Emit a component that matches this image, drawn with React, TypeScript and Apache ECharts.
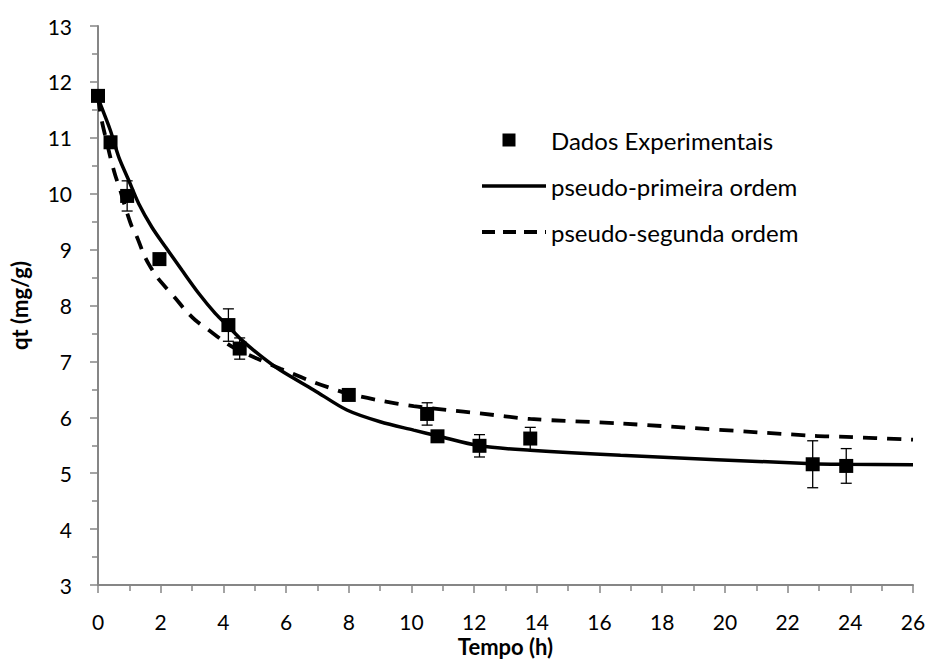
import React, { useEffect, useRef } from "react";
import * as echarts from "echarts";

const expTime = [0, 0.4, 0.93, 1.96, 4.16, 4.52, 8.0, 10.5, 10.83, 12.17, 13.79, 22.8, 23.87];
const expQt = [11.75, 10.92, 9.96, 8.83, 7.65, 7.23, 6.4, 6.06, 5.66, 5.49, 5.62, 5.16, 5.13];
const expErr = [0, 0, 0.27, 0, 0.29, 0.19, 0, 0.2, 0, 0.2, 0.2, 0.42, 0.31];

const pfoTime = [0, 0.07, 0.39, 0.66, 0.98, 1.3, 1.72, 2.15, 2.68, 3.21, 3.74, 4.17, 4.59, 5.23, 5.82, 6.88, 7.94, 9.0, 10.07, 10.81, 12.17, 13.79, 16.67, 22.8, 23.87, 26];
const pfoQt = [11.72, 11.61, 11.14, 10.66, 10.24, 9.82, 9.4, 9.05, 8.63, 8.22, 7.86, 7.62, 7.38, 7.08, 6.84, 6.49, 6.13, 5.92, 5.77, 5.67, 5.49, 5.41, 5.32, 5.17, 5.16, 5.15];

const psoTime = [0, 0.13, 0.29, 0.39, 0.55, 0.71, 0.87, 1.08, 1.24, 1.45, 1.61, 1.88, 2.15, 2.47, 2.78, 3.1, 3.53, 3.96, 4.38, 5.07, 5.82, 6.88, 7.94, 9.0, 10.07, 11.13, 12.19, 13.79, 16.65, 22.8, 23.87, 26];
const psoQt = [11.72, 11.28, 10.9, 10.66, 10.33, 10.06, 9.76, 9.41, 9.23, 8.93, 8.75, 8.51, 8.33, 8.13, 7.92, 7.74, 7.56, 7.38, 7.23, 7.05, 6.87, 6.63, 6.43, 6.3, 6.2, 6.13, 6.07, 5.97, 5.89, 5.67, 5.65, 5.6];

const seriesNames = ["Dados Experimentais", "pseudo-primeira ordem", "pseudo-segunda ordem"];
const xTitle = "Tempo (h)";
const yTitle = "qt (mg/g)";

const FONT = "Lato, 'Open Sans', sans-serif";
const AXIS_COLOR = "#868686";

export default function App() {
  const ref = useRef<HTMLDivElement>(null);
  useEffect(() => {
    if (!ref.current) return;
    const chart = echarts.init(ref.current, null, { renderer: "svg" });
    const errData = expTime
      .map((t, i) => [t, expQt[i], expErr[i]])
      .filter((d) => d[2] > 0);
    const hiddenSymbol = { opacity: 0, color: "rgba(0,0,0,0)", borderWidth: 0 };
    chart.setOption({
      animation: false,
      backgroundColor: "#fff",
      textStyle: { fontFamily: FONT },
      grid: { left: 98, right: 15, top: 26, bottom: 74, outerBoundsMode: "none", containLabel: false },
      legend: {
        orient: "vertical",
        left: 480,
        top: 127,
        padding: 0,
        itemWidth: 64,
        itemHeight: 13,
        itemGap: 20,
        textStyle: { fontFamily: FONT, fontSize: 24, color: "#000", lineHeight: 26 },
        data: [
          { name: seriesNames[0], icon: "path://M0,0L10,0L10,10L0,10ZM17.7,10L17.7,10" },
          { name: seriesNames[1], itemStyle: hiddenSymbol, lineStyle: { color: "#000", width: 3.5, type: "solid" } },
          { name: seriesNames[2], itemStyle: hiddenSymbol, lineStyle: { color: "#000", width: 4, type: [13, 8] } },
        ],
      },
      xAxis: {
        type: "value",
        min: 0,
        max: 26,
        interval: 2,
        name: xTitle,
        nameLocation: "middle",
        nameGap: 51,
        nameMoveOverlap: false,
        nameTextStyle: { fontFamily: FONT, fontSize: 22, fontWeight: "bold", color: "#000", lineHeight: 20 },
        axisLine: { show: true, lineStyle: { color: AXIS_COLOR, width: 2 } },
        axisTick: { show: true, length: 8, lineStyle: { color: AXIS_COLOR, width: 1.5 } },
        minorTick: { show: true, splitNumber: 2, length: 6, lineStyle: { color: AXIS_COLOR, width: 1.5 } },
        splitLine: { show: false },
        axisLabel: { fontFamily: FONT, fontSize: 21, color: "#000", margin: 26, lineHeight: 21 },
      },
      yAxis: {
        type: "value",
        min: 3,
        max: 13,
        interval: 1,
        name: yTitle,
        nameLocation: "middle",
        nameGap: 68,
        nameMoveOverlap: false,
        nameTextStyle: { fontFamily: FONT, fontSize: 22, fontWeight: "bold", color: "#000" },
        axisLine: { show: true, lineStyle: { color: AXIS_COLOR, width: 2 } },
        axisTick: { show: true, length: 8, lineStyle: { color: AXIS_COLOR, width: 1.5 } },
        minorTick: { show: true, splitNumber: 2, length: 6, lineStyle: { color: AXIS_COLOR, width: 1.5 } },
        splitLine: { show: false },
        axisLabel: { fontFamily: FONT, fontSize: 21, color: "#000", margin: 26 },
      },
      series: [
        {
          name: seriesNames[1],
          type: "line",
          data: pfoTime.map((t, i) => [t, pfoQt[i]]),
          smooth: 0.3,
          symbol: "none",
          lineStyle: { color: "#000", width: 3.5, type: "solid" },
          itemStyle: { color: "#000" },
          z: 2,
        },
        {
          name: seriesNames[2],
          type: "line",
          data: psoTime.map((t, i) => [t, psoQt[i]]),
          smooth: 0.3,
          symbol: "none",
          lineStyle: { color: "#000", width: 3.8, type: [14, 10] },
          itemStyle: { color: "#000" },
          z: 2,
        },
        {
          name: "erro",
          type: "custom",
          data: errData,
          dimensions: ["x", "y", "e"],
          encode: { x: 0, y: 1 },
          z: 3,
          renderItem: (params: any, api: any) => {
            const x = api.value(0);
            const y = api.value(1);
            const e = api.value(2);
            const top = api.coord([x, y + e]);
            const bot = api.coord([x, y - e]);
            const hw = 5.5;
            const st = { stroke: "#000", lineWidth: 1.3 };
            return {
              type: "group",
              children: [
                { type: "line", shape: { x1: top[0], y1: top[1], x2: bot[0], y2: bot[1] }, style: st },
                { type: "line", shape: { x1: top[0] - hw, y1: top[1], x2: top[0] + hw, y2: top[1] }, style: st },
                { type: "line", shape: { x1: bot[0] - hw, y1: bot[1], x2: bot[0] + hw, y2: bot[1] }, style: st },
              ],
            };
          },
        },
        {
          name: seriesNames[0],
          type: "scatter",
          data: expTime.map((t, i) => [t, expQt[i]]),
          symbol: "rect",
          symbolSize: 14,
          itemStyle: { color: "#000", opacity: 1 },
          z: 4,
        },
      ],
    });
    return () => chart.dispose();
  }, []);
  return (
    <div
      ref={ref}
      style={{ position: "absolute", left: 0, top: 0, width: 928, height: 659, background: "#fff" }}
    />
  );
}
